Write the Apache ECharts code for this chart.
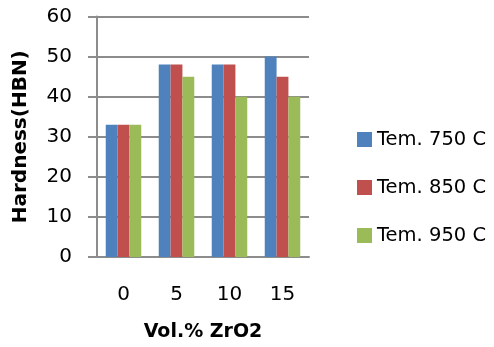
<!DOCTYPE html>
<html><head><meta charset="utf-8">
<script src="https://cdn.jsdelivr.net/npm/echarts@6/dist/echarts.min.js"></script>
<style>html,body{margin:0;padding:0;background:#fff}#c{width:494px;height:347px}</style>
</head><body><div id="c"></div>
<script>
const categories = ['0', '5', '10', '15'];
const seriesNames = ['Tem. 750 C', 'Tem. 850 C', 'Tem. 950 C'];
const tem750 = [33, 48, 48, 50];
const tem850 = [33, 48, 48, 45];
const tem950 = [33, 45, 40, 40];
const yTicks = [0, 10, 20, 30, 40, 50, 60];
const colors = ['#4F81BD', '#C0504D', '#9BBB59'];
const font = 'DejaVu Sans';
const chart = echarts.init(document.getElementById('c'));
const values = [tem750, tem850, tem950];
chart.setOption({
  animation: false,
  color: colors,
  grid: {left: 97, right: 185, top: 16.5, bottom: 88, containLabel: false},
  legend: {
    orient: 'vertical', left: 352, top: 124, itemGap: 27,
    itemWidth: 15, itemHeight: 15, icon: 'rect',
    textStyle: {fontFamily: font, fontSize: 19.5, lineHeight: 21, color: '#000', padding: [0,0,0,0]},
    data: seriesNames
  },
  xAxis: {
    type: 'category', data: categories,
    name: 'Vol.% ZrO2', nameLocation: 'middle', nameGap: 66,
    nameTextStyle: {fontFamily: font, fontSize: 19, fontWeight: 'bold', color: '#000'},
    axisLine: {lineStyle: {color: '#8c8c8c', width: 2}},
    axisTick: {show: false},
    axisLabel: {fontFamily: font, fontSize: 20, color: '#000', margin: 28}
  },
  yAxis: {
    type: 'value', min: yTicks[0], max: yTicks[yTicks.length-1], interval: 10,
    name: 'Hardness(HBN)', nameLocation: 'middle', nameGap: 66, nameRotate: 90,
    nameTextStyle: {fontFamily: font, fontSize: 20, fontWeight: 'bold', color: '#000'},
    axisLine: {show: true, lineStyle: {color: '#8c8c8c', width: 2}},
    axisTick: {show: true, length: 9, lineStyle: {color: '#8c8c8c', width: 2}},
    splitLine: {lineStyle: {color: '#8c8c8c', width: 2}},
    axisLabel: {fontFamily: font, fontSize: 20, color: '#000', margin: 25, padding: [5, 0, 0, 0]}
  },
  series: seriesNames.map((n, i) => ({
    name: n, type: 'bar', data: values[i],
    barGap: '0%', barCategoryGap: '33%',
    itemStyle: {color: colors[i]}
  }))
});
</script></body></html>
